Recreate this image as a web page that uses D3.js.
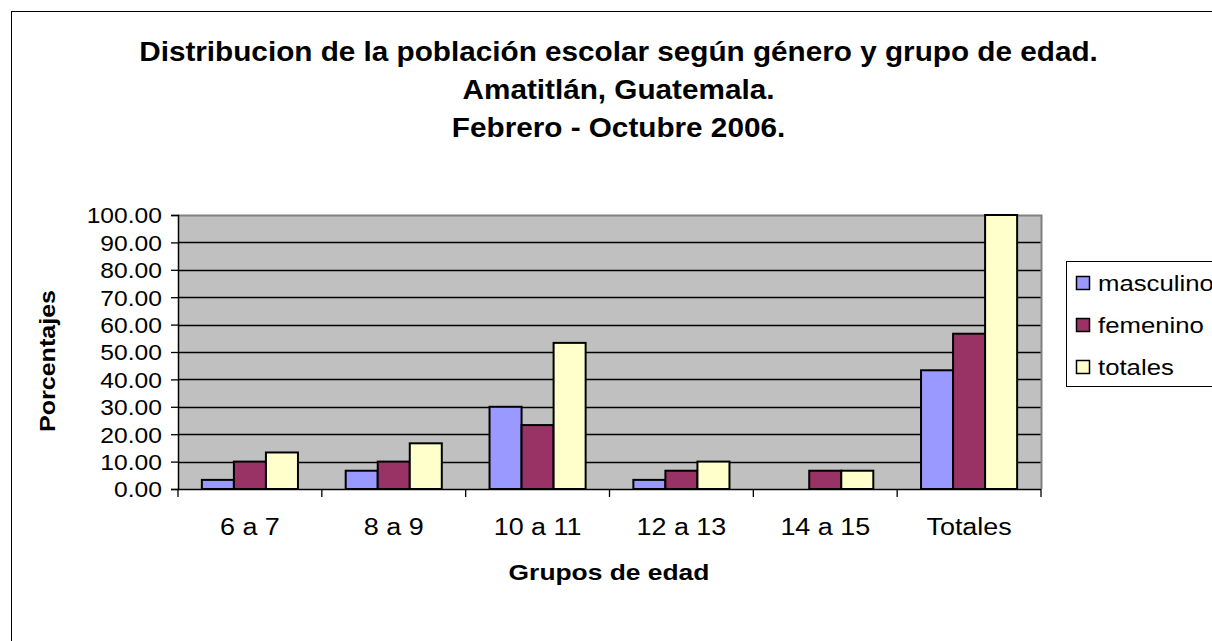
<!DOCTYPE html>
<html>
<head>
<meta charset="utf-8">
<script src="https://cdn.jsdelivr.net/npm/d3@7"></script>
<style>
  body { margin: 0; background: #fff; }
  svg { display: block; font-family: Arial, "Liberation Sans", sans-serif; }
</style>
</head>
<body>
<div id="chart"></div>
<script>
const categories = ["6 a 7", "8 a 9", "10 a 11", "12 a 13", "14 a 15", "Totales"];
const seriesNames = ["masculino", "femenino", "totales"];
const masculino = [3.33, 6.67, 30.0, 3.33, 0, 43.33];
const femenino = [10.0, 10.0, 23.33, 6.67, 6.67, 56.67];
const totales = [13.33, 16.67, 53.33, 10.0, 6.67, 100.0];
const yTicks = [0, 10, 20, 30, 40, 50, 60, 70, 80, 90, 100];
const colors = ["#9999ff", "#993366", "#ffffcc"];

const width = 1212, height = 641;
const plot = { left: 178, right: 1041, top: 215, bottom: 489 };

const svg = d3.select("#chart").append("svg")
  .attr("width", width).attr("height", height);

// text in the original is a bit wider than plain Arial
const place = (x, y, sx) => `translate(${x},${y}) scale(${sx},1)`;

// outer chart border
svg.append("rect").attr("x", 11.5).attr("y", 11.5)
  .attr("width", 1300).attr("height", 700)
  .attr("fill", "#fff").attr("stroke", "#000").attr("stroke-width", 1);

const title = ["Distribucion de la población escolar según género y grupo de edad.",
  "Amatitlán, Guatemala.", "Febrero - Octubre 2006."];
svg.append("g").selectAll("text").data(title).join("text")
  .attr("transform", (d, i) => place(618.5, 61 + i * 38, 1.1))
  .attr("text-anchor", "middle").attr("font-size", 27).attr("font-weight", "bold")
  .text(d => d);

const x0 = d3.scaleBand().domain(categories).range([plot.left, plot.right]).padding(0);
const x1 = d3.scaleBand().domain(seriesNames).range([0, x0.bandwidth()])
  .paddingInner(0).paddingOuter(0.745);
const y = d3.scaleLinear().domain([0, 100]).range([plot.bottom, plot.top]);

// plot background
svg.append("rect").attr("x", plot.left).attr("y", plot.top)
  .attr("width", plot.right - plot.left).attr("height", plot.bottom - plot.top)
  .attr("fill", "#c0c0c0");

// gridlines
svg.append("g").selectAll("line").data(yTicks.filter(t => t > 0 && t < 100)).join("line")
  .attr("x1", plot.left).attr("x2", plot.right)
  .attr("y1", d => Math.round(y(d)) + 0.5).attr("y2", d => Math.round(y(d)) + 0.5)
  .attr("stroke", "#000").attr("stroke-width", 1.3);

// top and right border
svg.append("path")
  .attr("d", `M${plot.left},${plot.top + 0.5}H${plot.right + 0.5}V${plot.bottom}`)
  .attr("fill", "none").attr("stroke", "#808080").attr("stroke-width", 2);

const data = categories.map((c, i) => ({
  cat: c, vals: [masculino[i], femenino[i], totales[i]]
}));

const groups = svg.append("g").selectAll("g").data(data).join("g")
  .attr("transform", d => `translate(${x0(d.cat)},0)`);
groups.selectAll("rect").data(d => d.vals.map((v, j) => ({ s: seriesNames[j], v, j })))
  .join("rect")
  .filter(d => d.v > 0)
  .attr("x", d => x1(d.s)).attr("width", x1.bandwidth())
  .attr("y", d => y(d.v)).attr("height", d => y(0) - y(d.v))
  .attr("fill", d => colors[d.j]).attr("stroke", "#000").attr("stroke-width", 2);

// y axis
const yAxis = svg.append("g").attr("transform", `translate(${plot.left},0)`)
  .call(d3.axisLeft(y).tickValues(yTicks).tickFormat(d3.format(".2f")).tickSize(7));
yAxis.select(".domain").attr("stroke", "#000").attr("stroke-width", 1.5);
yAxis.selectAll(".tick line").attr("stroke", "#000").attr("stroke-width", 1.3);
yAxis.selectAll(".tick text").attr("x", 0).attr("dy", "0.36em")
  .attr("transform", place(-16, 0, 1.12))
  .attr("font-size", 22).attr("font-family", "Arial, 'Liberation Sans', sans-serif")
  .attr("fill", "#000");

// x axis
const xTickPos = categories.map(c => x0(c)).concat([plot.right]);
svg.append("line").attr("x1", plot.left).attr("x2", plot.right)
  .attr("y1", plot.bottom + 0.5).attr("y2", plot.bottom + 0.5)
  .attr("stroke", "#000").attr("stroke-width", 1.5);
svg.append("g").selectAll("line").data(xTickPos).join("line")
  .attr("x1", d => d).attr("x2", d => d)
  .attr("y1", plot.bottom).attr("y2", plot.bottom + 8)
  .attr("stroke", "#000").attr("stroke-width", 1.3);
svg.append("g").selectAll("text").data(categories).join("text")
  .attr("transform", d => place(x0(d) + x0.bandwidth() / 2, 535, 1.17))
  .attr("text-anchor", "middle").attr("font-size", 23).text(d => d);

// axis titles
svg.append("text").attr("transform", place(609, 580, 1.2)).attr("text-anchor", "middle")
  .attr("font-size", 22).attr("font-weight", "bold").text("Grupos de edad");
svg.append("text").attr("transform", "translate(55,361) rotate(-90) scale(1.14,1)")
  .attr("text-anchor", "middle").attr("font-size", 22).attr("font-weight", "bold")
  .text("Porcentajes");

// legend
const legend = svg.append("g");
legend.append("rect").attr("x", 1066.5).attr("y", 261.5).attr("width", 200).attr("height", 125)
  .attr("fill", "#fff").attr("stroke", "#000").attr("stroke-width", 1);
const li = legend.selectAll("g").data(seriesNames).join("g")
  .attr("transform", (d, i) => `translate(1076,${283 + i * 42})`);
li.append("rect").attr("x", 0.5).attr("y", -6.5).attr("width", 13).attr("height", 13)
  .attr("fill", (d, i) => colors[i]).attr("stroke", "#000").attr("stroke-width", 1.5);
li.append("text").attr("transform", place(22, 8, 1.17)).attr("font-size", 22).text(d => d);
</script>
</body>
</html>
